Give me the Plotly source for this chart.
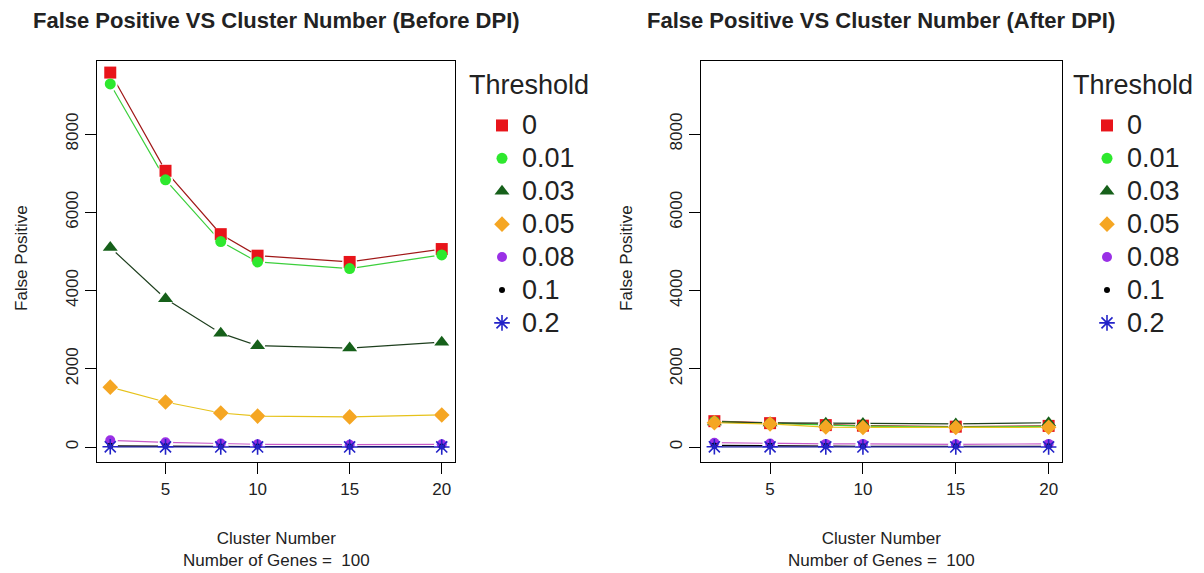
import plotly.graph_objects as go

# Cluster numbers on the x axis
clusters = [2, 5, 8, 10, 15, 20]

# Threshold labels and per-threshold styles
thresholds = ["0", "0.01", "0.03", "0.05", "0.08", "0.1", "0.2"]
marker_colors = ["#e8141a", "#2ee82e", "#16601a", "#f5a623", "#9a30e6", "#000000", "#2323c8"]
line_colors = ["#a01818", "#3ccf3c", "#1e3f1e", "#e6c21a", "#c85ac8", "#000000", "#1a1a96"]
symbols = ["square", "circle", "triangle-up", "diamond", "circle", "circle", "asterisk-open"]
sizes = [12, 11, 13, 12, 10, 6, 13]

# False positives before DPI
before_t0 = [9570, 7060, 5440, 4890, 4730, 5060]
before_t001 = [9280, 6830, 5250, 4730, 4560, 4910]
before_t003 = [5100, 3790, 2910, 2590, 2530, 2680]
before_t005 = [1530, 1150, 870, 790, 770, 820]
before_t008 = [170, 120, 90, 70, 60, 70]
before_t01 = [30, 20, 15, 10, 10, 10]
before_t02 = [5, 3, 2, 2, 2, 2]

# False positives after DPI
after_t0 = [660, 610, 560, 545, 520, 540]
after_t001 = [650, 600, 550, 535, 510, 530]
after_t003 = [640, 615, 610, 600, 590, 620]
after_t005 = [620, 590, 510, 500, 500, 505]
after_t008 = [110, 90, 80, 80, 70, 80]
after_t01 = [40, 30, 25, 20, 20, 20]
after_t02 = [5, 3, 3, 2, 2, 2]

before = [before_t0, before_t001, before_t003, before_t005, before_t008, before_t01, before_t02]
after = [after_t0, after_t001, after_t003, after_t005, after_t008, after_t01, after_t02]

W, H = 1204, 573
FONT = "Liberation Sans, Arial, sans-serif"

fig = go.Figure()

panels = [
    (before, "x", "y", "legend"),
    (after, "x2", "y2", "legend2"),
]

# connecting lines first
for series, xa, ya, _ in panels:
    for vals, lc in zip(series, line_colors):
        fig.add_trace(go.Scatter(
            x=clusters, y=vals, xaxis=xa, yaxis=ya, mode="lines",
            line=dict(color=lc, width=1.2), showlegend=False, hoverinfo="skip"))

# small white halos leave a gap in the lines around each point
for series, xa, ya, _ in panels:
    for vals in series:
        fig.add_trace(go.Scatter(
            x=clusters, y=vals, xaxis=xa, yaxis=ya, mode="markers",
            marker=dict(symbol="circle", size=15, color="white", line=dict(width=0)),
            showlegend=False, hoverinfo="skip"))

# point markers, also used for the legends
for series, xa, ya, leg in panels:
    for name, vals, mc, sym, sz in zip(thresholds, series, marker_colors, symbols, sizes):
        if sym.endswith("-open"):
            marker = dict(symbol=sym, size=sz, color=mc, line=dict(color=mc, width=1.6))
        else:
            marker = dict(symbol=sym, size=sz, color=mc, line=dict(width=0))
        fig.add_trace(go.Scatter(
            x=clusters, y=vals, xaxis=xa, yaxis=ya, mode="markers",
            marker=marker, legend=leg,
            name='<span style="font-size:27px">%s</span>' % name))

def px_x(p):
    return p / W

def px_y(p):
    return 1 - p / H

yrange = [-383, 9866]
xrange = [1.28, 20.72]

axis_common = dict(
    showgrid=False, zeroline=False, showline=True, mirror=True,
    linecolor="black", linewidth=1.3, ticks="outside", ticklen=11,
    tickwidth=1, tickcolor="black",
    tickfont=dict(family=FONT, size=17, color="#222"),
)

legend_common = dict(
    xanchor="left", yanchor="top",
    font=dict(family=FONT, size=23, color="#222"), indentation=17,
    bgcolor="rgba(0,0,0,0)", borderwidth=0, itemclick=False,
)

dom_y = [px_y(462), px_y(61)]
fig.update_layout(
    width=W, height=H,
    margin=dict(l=0, r=0, t=0, b=0),
    paper_bgcolor="white", plot_bgcolor="white",
    font=dict(family=FONT, color="#222"),
    xaxis=dict(domain=[px_x(97), px_x(455)], range=xrange, tickvals=[5, 10, 15, 20], anchor="y", **axis_common),
    yaxis=dict(domain=dom_y, range=yrange, tickvals=[0, 2000, 4000, 6000, 8000], tickangle=-90, anchor="x", **axis_common),
    xaxis2=dict(domain=[px_x(701), px_x(1062)], range=xrange, tickvals=[5, 10, 15, 20], anchor="y2", **axis_common),
    yaxis2=dict(domain=dom_y, range=yrange, tickvals=[0, 2000, 4000, 6000, 8000], tickangle=-90, anchor="x2", **axis_common),
    legend=dict(x=px_x(465), y=px_y(104), **legend_common),
    legend2=dict(x=px_x(1070), y=px_y(104), **legend_common),
    showlegend=True,
)

# legend headings
for lx in [467, 1071]:
    fig.add_annotation(
        text="Threshold", x=px_x(lx), y=px_y(85), xref="paper", yref="paper",
        xanchor="left", yanchor="middle", showarrow=False,
        font=dict(family=FONT, size=27, color="#222"))

titles = [
    ("False Positive VS Cluster Number (Before DPI)", 276),
    ("False Positive VS Cluster Number (After DPI)", 881),
]
for text, cx in titles:
    fig.add_annotation(
        text="<b>%s</b>" % text, x=px_x(cx), y=px_y(21), xref="paper", yref="paper",
        xanchor="center", yanchor="middle", showarrow=False,
        font=dict(family=FONT, size=22, color="#222"))

for cx, ylab_x in [(276, 22), (881, 627)]:
    fig.add_annotation(
        text="Cluster Number<br>Number of Genes = \u00a0100",
        x=px_x(cx), y=px_y(549), xref="paper", yref="paper",
        xanchor="center", yanchor="middle", showarrow=False,
        font=dict(family=FONT, size=17, color="#222"))
    fig.add_annotation(
        text="False Positive", textangle=-90,
        x=px_x(ylab_x), y=px_y(258), xref="paper", yref="paper",
        xanchor="center", yanchor="middle", showarrow=False,
        font=dict(family=FONT, size=17, color="#222"))

fig.write_html("out.html")
